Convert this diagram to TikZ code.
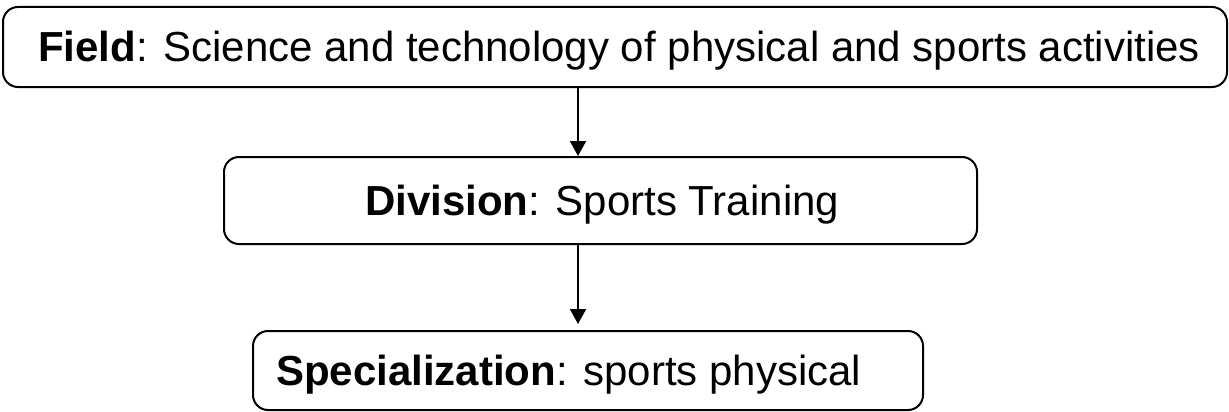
\documentclass[tikz,border=0pt]{standalone}
\usepackage{fontspec}
\setmainfont{Liberation Sans}
\usetikzlibrary{arrows.meta}
\tikzset{
  box/.style={draw=black, line width=2pt, rounded corners=15pt, inner sep=0pt},
  lbl/.style={anchor=base west, inner sep=0pt, font=\fontsize{42}{50}\selectfont},
  conn/.style={line width=2pt, -{Triangle[width=16pt,length=15pt]}}
}
\begin{document}
\begin{tikzpicture}[x=1pt,y=-1pt]
\useasboundingbox (0,0) rectangle (1229,412);
\node[box, minimum width=1224pt, minimum height=80pt] (b1) at (615,47) {};
\node[box, minimum width=753pt, minimum height=87pt] (b2) at (600.5,157+43.5) {};
\node[box, minimum width=670pt, minimum height=79pt] (b3) at (588,331+39.5) {};
\node[lbl] (t1) at (38,62) {\textbf{Field}: Science and technology of physical and sports activities};
\node[lbl] (t2) at (365,215) {\textbf{Division}: Sports Training};
\node[lbl] (t3) at (276,385) {\textbf{Specialization}: sports physical};
\coordinate (a1s) at (578,87);
\coordinate (a2s) at (578,244);
\coordinate (a2e) at (578,324);
\draw[conn] (a1s) -- (b2.north -| a1s);
\draw[conn] (a2s) -- (a2e);
\end{tikzpicture}
\end{document}
